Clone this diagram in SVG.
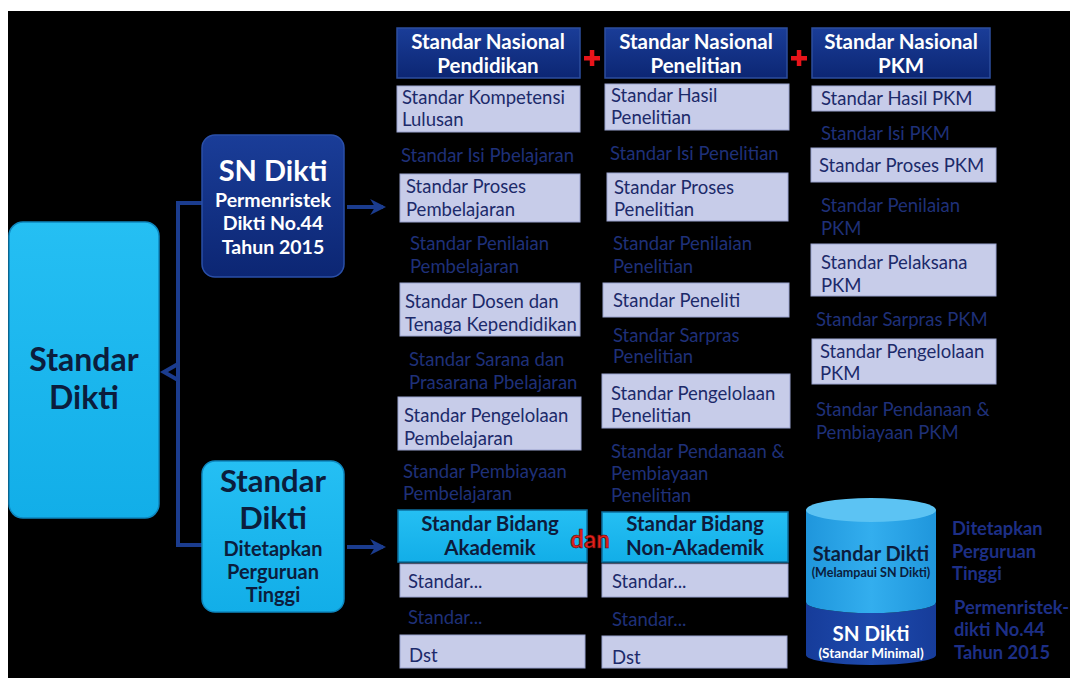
<svg xmlns="http://www.w3.org/2000/svg" width="1070" height="678" viewBox="0 0 1070 678">
<defs>
<linearGradient id="gNavy" x1="0" y1="0" x2="0" y2="1"><stop offset="0" stop-color="#1a3d98"/><stop offset="1" stop-color="#0c2673"/></linearGradient>
<linearGradient id="gCyan" x1="0" y1="0" x2="0" y2="1"><stop offset="0" stop-color="#25bff3"/><stop offset="1" stop-color="#12aee8"/></linearGradient>
<linearGradient id="gCylTop" x1="0" y1="0" x2="1" y2="0"><stop offset="0" stop-color="#1f96dc"/><stop offset="0.5" stop-color="#33aeee"/><stop offset="1" stop-color="#1f96dc"/></linearGradient>
<linearGradient id="gCylBot" x1="0" y1="0" x2="1" y2="0"><stop offset="0" stop-color="#163c9a"/><stop offset="0.5" stop-color="#1e4aad"/><stop offset="1" stop-color="#163c9a"/></linearGradient>
<marker id="arr" viewBox="0 0 10 10" refX="8" refY="5" markerWidth="4" markerHeight="4" orient="auto" markerUnits="strokeWidth"><path d="M0,0 L10,5 L0,10 L3,5 z" fill="#1b3c8e"/></marker>
</defs>
<style>
text{font-family:Lato,"Open Sans","Liberation Sans",sans-serif}
.hd{fill:url(#gNavy);stroke:#2c4e9e;stroke-width:1.5}
.hdt{fill:#ffffff;font-weight:bold;font-size:20.5px;text-anchor:middle}
.bx{fill:#c7cce9;stroke:#9aa3cf;stroke-width:1}
.bt{fill:#1c2a6a;font-size:18.5px}
.pt{fill:#1f3078;font-size:18.5px}
.cy{fill:url(#gCyan);stroke:#0d6f9e;stroke-width:1.5}
.cyt{fill:#0d1c3c;font-weight:bold;font-size:20.5px;text-anchor:middle}
.plus{fill:#e8141a}
.conn{fill:none;stroke:#1b3c8e;stroke-width:4}
.rt{fill:#1d2f86;font-weight:bold;font-size:18.3px}
.lt{fill:#0b1d3d;font-weight:bold;text-anchor:middle}
.wt{fill:#ffffff;font-weight:bold;text-anchor:middle}
</style>
<rect x="0" y="0" width="1070" height="678" fill="#ffffff"/>
<rect x="8" y="11" width="1062" height="667" fill="#000000"/>

<g id="connectors">
<path class="conn" d="M202,203 H178 V545 H202"/>
<path class="conn" d="M178,364 L164,372 L178,380"/>
<line class="conn" x1="347" y1="207" x2="383" y2="207" marker-end="url(#arr)"/>
<line class="conn" x1="347" y1="547" x2="383" y2="547" marker-end="url(#arr)"/>
</g>

<g id="standar-dikti">
<rect x="9" y="222" width="150" height="296" rx="14" fill="url(#gCyan)" stroke="#0e87bf" stroke-width="1.5"/>
<text class="lt" x="84" y="371" font-size="32">Standar</text>
<text class="lt" x="84" y="409" font-size="32">Dikti</text>
</g>

<g id="sn-dikti">
<rect x="202" y="135" width="142" height="142" rx="13" fill="url(#gNavy)" stroke="#2a4fa8" stroke-width="1.5"/>
<text class="wt" x="273" y="181" font-size="29">SN Dikti</text>
<text class="wt" x="273" y="207" font-size="19.5">Permenristek</text>
<text class="wt" x="273" y="230" font-size="19.5">Dikti No.44</text>
<text class="wt" x="273" y="254" font-size="19.5">Tahun 2015</text>
</g>

<g id="standar-dikti-pt">
<rect x="202" y="461" width="142" height="151" rx="13" fill="url(#gCyan)" stroke="#0e87bf" stroke-width="1.5"/>
<text class="lt" x="273" y="492" font-size="31">Standar</text>
<text class="lt" x="273" y="529" font-size="31">Dikti</text>
<text class="lt" x="273" y="556" font-size="20">Ditetapkan</text>
<text class="lt" x="273" y="579" font-size="20">Perguruan</text>
<text class="lt" x="273" y="602" font-size="20">Tinggi</text>
</g>

<g id="hdr-pendidikan">
<rect class="hd" x="397" y="28" width="183" height="50"/>
<text class="hdt" x="488" y="49">Standar Nasional</text>
<text class="hdt" x="488" y="73">Pendidikan</text>
</g>
<g id="plus1"><rect class="plus" x="584" y="56" width="16" height="4.5"/><rect class="plus" x="589.8" y="50" width="4.5" height="16"/></g>
<g id="hdr-penelitian">
<rect class="hd" x="605" y="28" width="182" height="50"/>
<text class="hdt" x="696" y="49">Standar Nasional</text>
<text class="hdt" x="696" y="73">Penelitian</text>
</g>
<g id="plus2"><rect class="plus" x="791" y="56" width="16" height="4.5"/><rect class="plus" x="796.8" y="50" width="4.5" height="16"/></g>
<g id="hdr-pkm">
<rect class="hd" x="812" y="28" width="178" height="50"/>
<text class="hdt" x="901" y="49">Standar Nasional</text>
<text class="hdt" x="901" y="73">PKM</text>
</g>

<!-- Column 1 -->
<g id="c1-1"><rect class="bx" x="397" y="86" width="183" height="46"/><text class="bt" x="402" y="104">Standar Kompetensi</text><text class="bt" x="402" y="126">Lulusan</text></g>
<g id="c1-2"><text class="pt" x="401" y="162">Standar Isi Pbelajaran</text></g>
<g id="c1-3"><rect class="bx" x="400" y="174" width="180" height="48"/><text class="bt" x="406" y="193">Standar Proses</text><text class="bt" x="406" y="216">Pembelajaran</text></g>
<g id="c1-4"><text class="pt" x="410" y="250">Standar Penilaian</text><text class="pt" x="410" y="273">Pembelajaran</text></g>
<g id="c1-5"><rect class="bx" x="400" y="283" width="180" height="53"/><text class="bt" x="405" y="308">Standar Dosen dan</text><text class="bt" x="405" y="331">Tenaga Kependidikan</text></g>
<g id="c1-6"><text class="pt" x="409" y="366">Standar Sarana dan</text><text class="pt" x="409" y="389">Prasarana Pbelajaran</text></g>
<g id="c1-7"><rect class="bx" x="398" y="397" width="183" height="53"/><text class="bt" x="404" y="422">Standar Pengelolaan</text><text class="bt" x="404" y="445">Pembelajaran</text></g>
<g id="c1-8"><text class="pt" x="403" y="478">Standar Pembiayaan</text><text class="pt" x="403" y="500">Pembelajaran</text></g>
<g id="c1-bidang"><rect class="cy" x="398" y="510" width="189" height="52"/><text class="cyt" x="490" y="531">Standar Bidang</text><text class="cyt" x="490" y="555">Akademik</text></g>
<g id="c1-s1"><rect class="bx" x="400" y="564" width="187" height="33"/><text class="bt" x="408" y="588">Standar...</text></g>
<g id="c1-s2"><text class="pt" x="408" y="624">Standar...</text></g>
<g id="c1-dst"><rect class="bx" x="400" y="635" width="185" height="33"/><text class="bt" x="409" y="662">Dst</text></g>

<!-- Column 2 -->
<g id="c2-1"><rect class="bx" x="605" y="84" width="184" height="46"/><text class="bt" x="611" y="102">Standar Hasil</text><text class="bt" x="611" y="124">Penelitian</text></g>
<g id="c2-2"><text class="pt" x="610" y="160">Standar Isi Penelitian</text></g>
<g id="c2-3"><rect class="bx" x="607" y="173" width="181" height="48"/><text class="bt" x="614" y="194">Standar Proses</text><text class="bt" x="614" y="216">Penelitian</text></g>
<g id="c2-4"><text class="pt" x="613" y="250">Standar Penilaian</text><text class="pt" x="613" y="273">Penelitian</text></g>
<g id="c2-5"><rect class="bx" x="603" y="283" width="186" height="34"/><text class="bt" x="613" y="307">Standar Peneliti</text></g>
<g id="c2-6"><text class="pt" x="613" y="342">Standar Sarpras</text><text class="pt" x="613" y="363">Penelitian</text></g>
<g id="c2-7"><rect class="bx" x="602" y="374" width="188" height="54"/><text class="bt" x="611" y="400">Standar Pengelolaan</text><text class="bt" x="611" y="422">Penelitian</text></g>
<g id="c2-8"><text class="pt" x="611" y="458">Standar Pendanaan &amp;</text><text class="pt" x="611" y="480">Pembiayaan</text><text class="pt" x="611" y="502">Penelitian</text></g>
<g id="c2-bidang"><rect class="cy" x="602" y="512" width="186" height="50"/><text class="cyt" x="695" y="531">Standar Bidang</text><text class="cyt" x="695" y="555">Non-Akademik</text></g>
<g id="c2-s1"><rect class="bx" x="602" y="564" width="186" height="33"/><text class="bt" x="612" y="588">Standar...</text></g>
<g id="c2-s2"><text class="pt" x="612" y="626">Standar...</text></g>
<g id="c2-dst"><rect class="bx" x="602" y="636" width="185" height="32"/><text class="bt" x="612" y="664">Dst</text></g>

<g id="dan"><text x="590" y="548" text-anchor="middle" font-size="24" font-weight="bold" fill="#e3201b" stroke="#5a0a08" stroke-width="0.6">dan</text></g>

<!-- Column 3 -->
<g id="c3-1"><rect class="bx" x="812" y="86" width="183" height="25"/><text class="bt" x="821" y="105">Standar Hasil PKM</text></g>
<g id="c3-2"><text class="pt" x="821" y="140">Standar Isi PKM</text></g>
<g id="c3-3"><rect class="bx" x="811" y="148" width="185" height="34"/><text class="bt" x="819" y="172">Standar Proses PKM</text></g>
<g id="c3-4"><text class="pt" x="821" y="212">Standar Penilaian</text><text class="pt" x="821" y="235">PKM</text></g>
<g id="c3-5"><rect class="bx" x="811" y="244" width="185" height="52"/><text class="bt" x="821" y="269">Standar Pelaksana</text><text class="bt" x="821" y="292">PKM</text></g>
<g id="c3-6"><text class="pt" x="816" y="326">Standar Sarpras PKM</text></g>
<g id="c3-7"><rect class="bx" x="812" y="339" width="184" height="45"/><text class="bt" x="820" y="358">Standar Pengelolaan</text><text class="bt" x="820" y="380">PKM</text></g>
<g id="c3-8"><text class="pt" x="816" y="416">Standar Pendanaan &amp;</text><text class="pt" x="816" y="439">Pembiayaan PKM</text></g>

<!-- Cylinder -->
<g id="cylinder">
<path d="M806,510 V602 A65,11 0 0 0 936,602 V655 A65,10 0 0 1 806,655 Z" fill="url(#gCylBot)"/>
<path d="M806,510 V602 A65,11 0 0 0 936,602 V510 Z" fill="url(#gCylTop)"/>
<ellipse cx="871" cy="510" rx="65" ry="12" fill="#5cc3f3"/>
<text class="lt" x="871" y="561" font-size="20">Standar Dikti</text>
<text class="lt" x="871" y="577" font-size="12.5">(Melampaui SN Dikti)</text>
<text class="wt" x="871" y="641" font-size="20.5">SN Dikti</text>
<text class="wt" x="871" y="658" font-size="13.5">(Standar Minimal)</text>
</g>

<g id="label-ditetapkan">
<text class="rt" x="952" y="535">Ditetapkan</text>
<text class="rt" x="952" y="558">Perguruan</text>
<text class="rt" x="952" y="580">Tinggi</text>
</g>
<g id="label-permenristek">
<text class="rt" x="954" y="614">Permenristek-</text>
<text class="rt" x="954" y="636">dikti No.44</text>
<text class="rt" x="954" y="659">Tahun 2015</text>
</g>
</svg>
